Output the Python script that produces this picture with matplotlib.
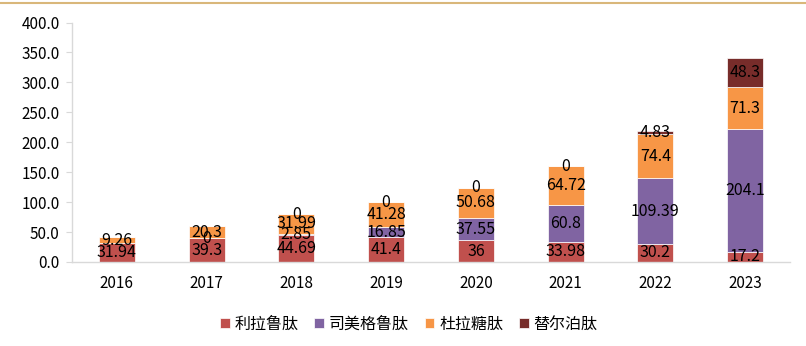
import numpy as np
import matplotlib
matplotlib.use("Agg")
import matplotlib.pyplot as plt
from matplotlib.lines import Line2D

plt.rcParams['font.family'] = ['Noto Sans CJK SC', 'DejaVu Sans']

years = ['2016', '2017', '2018', '2019', '2020', '2021', '2022', '2023']
series_names = ['利拉鲁肽', '司美格鲁肽', '杜拉糖肽', '替尔泊肽']
liraglutide = [31.94, 39.3, 44.69, 41.4, 36, 33.98, 30.2, 17.2]
semaglutide = [None, 0, 2.85, 16.85, 37.55, 60.8, 109.39, 204.1]
dulaglutide = [9.26, 20.3, 31.99, 41.28, 50.68, 64.72, 74.4, 71.3]
tirzepatide = [None, None, 0, 0, 0, 0, 4.83, 48.3]
colors = ['#C0504D', '#8064A2', '#F79646', '#772C2A']

fig = plt.figure(figsize=(8.06, 3.46), dpi=100)
ax = fig.add_axes([72 / 806, 84 / 346, 718 / 806, 239.5 / 346])

x = np.arange(len(years))
bottom = np.zeros(len(years))
for name, vals, c in zip(series_names, [liraglutide, semaglutide, dulaglutide, tirzepatide], colors):
    h = np.array([0 if v is None else v for v in vals], dtype=float)
    bars = ax.bar(x, h, 0.4, bottom=bottom, color=c, edgecolor='white', linewidth=0.5, label=name)
    labels = ['' if v is None else f'{v:g}' for v in vals]
    ax.bar_label(bars, labels=labels, label_type='center', fontsize=11.5, color='black')
    bottom += h

ax.set_xlim(-0.5, len(years) - 0.5)
ax.set_ylim(0, 400)
ax.set_yticks(np.arange(0, 401, 50))
ax.set_yticklabels([f'{v:.1f}' for v in np.arange(0, 401, 50)], fontsize=11)
ax.set_xticks(x)
ax.set_xticklabels(years, fontsize=11)
ax.tick_params(axis='x', length=0, pad=9)
ax.tick_params(axis='y', length=4, color='#D9D9D9', pad=5)
for s in ['top', 'right']:
    ax.spines[s].set_visible(False)
for s in ['left', 'bottom']:
    ax.spines[s].set_color('#D9D9D9')
    ax.spines[s].set_linewidth(1)

ax.legend(loc='upper center', bbox_to_anchor=(0.469, -0.165), ncol=4, frameon=False,
          fontsize=11.5, handlelength=0.6, handleheight=0.6, handletextpad=0.3, columnspacing=1.0)

fig.add_artist(Line2D([0, 1], [1 - 3 / 346, 1 - 3 / 346], color='#D9B77A', linewidth=1.5))

fig.savefig('out.png', dpi=100)
